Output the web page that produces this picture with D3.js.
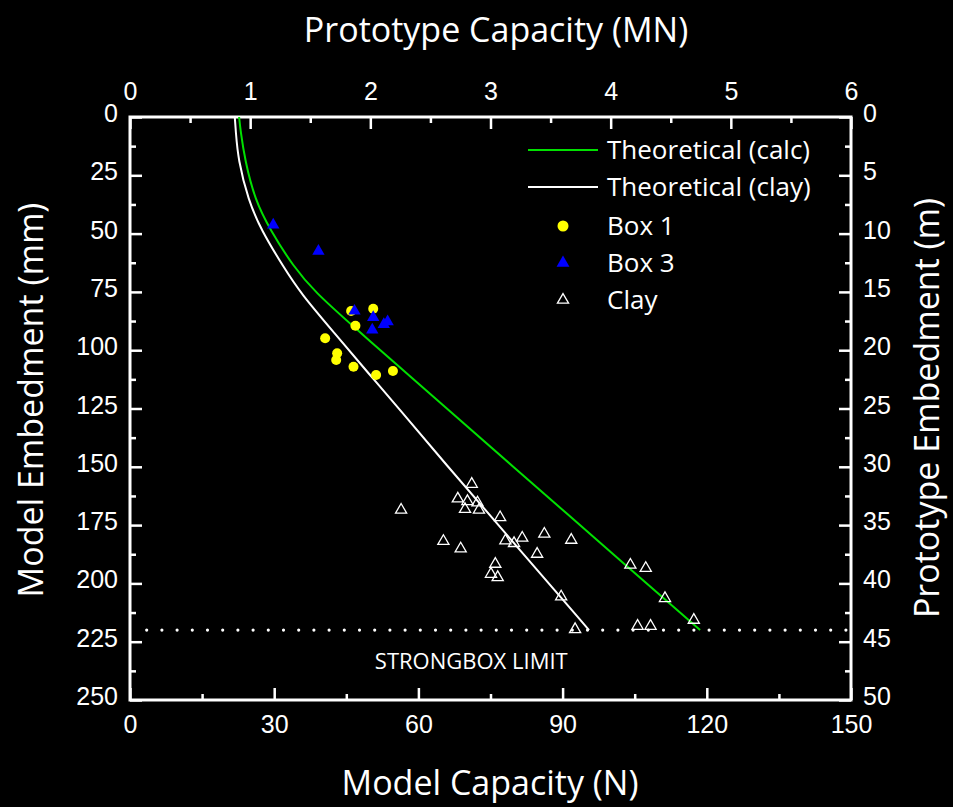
<!DOCTYPE html>
<html>
<head>
<meta charset="utf-8">
<script src="https://cdn.jsdelivr.net/npm/d3@7"></script>
<style>
html,body{margin:0;padding:0;background:#000;}
svg{display:block;}
text{font-family:"Open Sans",sans-serif;fill:#fff;}
</style>
</head>
<body>
<svg id="chart" width="953" height="807"></svg>
<script>
// ---- data ----
const xTicksBottom = [0, 30, 60, 90, 120, 150];
const yTicksLeft = [0, 25, 50, 75, 100, 125, 150, 175, 200, 225, 250];
const xTicksTop = [0, 1, 2, 3, 4, 5, 6];
const yTicksRight = [0, 5, 10, 15, 20, 25, 30, 35, 40, 45, 50];

// Theoretical curves: [capacity N, embedment mm]
const theoCalc = [[22.7,0],[23.0,6],[23.9,18.4],[26.0,35.6],[29.2,48.5],[34.0,64.2],[38.4,74.9],[46.5,89.9],[56.8,108.5],[63.1,119.9],[78.1,147],[104.3,194.3],[118.6,220]];
const theoClay = [[21.8,0],[22.0,6],[22.5,18.4],[24.6,35.6],[27.3,48.5],[31.9,64.2],[35.5,75.6],[42.6,92.8],[49.6,109.9],[56.2,125.6],[64.9,147],[80,183],[95.5,220]];

const box1 = [[46.0,83.2],[50.6,82.2],[46.9,89.5],[40.6,94.9],[43.1,101.3],[42.9,104.2],[46.5,107.1],[51.2,110.6],[54.7,108.9]];
const box3 = [[29.8,46.3],[39.2,57.5],[46.7,83.2],[50.6,85.9],[50.4,91.3],[52.8,88.9],[53.6,87.8]];
const clay = [[71.1,157.4],[68.2,163.7],[70.2,164.8],[72.3,165.4],[69.7,168.2],[72.6,168.5],[56.4,168.5],[77.0,171.7],[86.2,178.8],[91.8,181.4],[81.6,180.5],[78.1,181.7],[79.9,182.8],[65.2,181.9],[68.8,185.1],[84.7,187.4],[76.0,191.7],[75.1,196.0],[76.5,197.4],[89.7,205.7],[92.6,219.7],[104.1,192.1],[107.3,193.5],[111.3,206.4],[117.3,215.7],[105.6,218.3],[108.3,218.3]];

const strongboxLimit = 220;
const legendItems = ["Theoretical (calc)", "Theoretical (clay)", "Box 1", "Box 3", "Clay"];

// ---- layout ----
const L = 130, T = 117, W = 721, H = 583;
const svg = d3.select("#chart");
const g = svg.append("g").attr("transform", `translate(${L},${T})`);

const x = d3.scaleLinear().domain([0, 150]).range([0, W]);
const y = d3.scaleLinear().domain([0, 250]).range([0, H]);
const xTop = d3.scaleLinear().domain([0, 6]).range([0, W]);
const yRight = d3.scaleLinear().domain([0, 50]).range([0, H]);

const FS = 25;
const TICKFONT = '"Liberation Sans", Arial, sans-serif';
const GREEN = "#00e000";

function styleAxis(sel) {
  sel.select(".domain").remove();
  sel.selectAll("line").attr("stroke", "#fff").attr("stroke-width", 2.5);
  sel.selectAll("text").attr("font-size", FS).attr("fill", "#fff").style("font-family", TICKFONT);
}
function vertLabels(sel) { sel.selectAll("text").attr("dy", "0.18em"); }

function minors(arr) { const out = []; for (let i = 0; i < arr.length - 1; i++) out.push((arr[i] + arr[i+1]) / 2); return out; }

// bottom
g.append("g").attr("transform", `translate(0,${H})`)
  .call(d3.axisBottom(x).tickValues(xTicksBottom).tickSize(-12).tickPadding(15).tickFormat(d3.format("d")))
  .call(styleAxis);
g.append("g").attr("transform", `translate(0,${H})`)
  .call(d3.axisBottom(x).tickValues(minors(xTicksBottom)).tickSize(-6).tickFormat(""))
  .call(styleAxis);
// top
g.append("g")
  .call(d3.axisTop(xTop).tickValues(xTicksTop).tickSize(-12).tickPadding(17).tickFormat(d3.format("d")))
  .call(styleAxis);
g.append("g")
  .call(d3.axisTop(xTop).tickValues(minors(xTicksTop)).tickSize(-6).tickFormat(""))
  .call(styleAxis);
// left
g.append("g")
  .call(d3.axisLeft(y).tickValues(yTicksLeft).tickSize(-12).tickPadding(12).tickFormat(d3.format("d")))
  .call(styleAxis).call(vertLabels);
g.append("g")
  .call(d3.axisLeft(y).tickValues(minors(yTicksLeft)).tickSize(-6).tickFormat(""))
  .call(styleAxis);
// right
g.append("g").attr("transform", `translate(${W},0)`)
  .call(d3.axisRight(yRight).tickValues(yTicksRight).tickSize(-12).tickPadding(12).tickFormat(d3.format("d")))
  .call(styleAxis).call(vertLabels);
g.append("g").attr("transform", `translate(${W},0)`)
  .call(d3.axisRight(yRight).tickValues(minors(yTicksRight)).tickSize(-6).tickFormat(""))
  .call(styleAxis);

// frame
g.append("rect").attr("x", 0).attr("y", 0).attr("width", W).attr("height", H)
  .attr("fill", "none").attr("stroke", "#fff").attr("stroke-width", 3);

// strongbox limit
g.append("line").attr("x1", 16.7).attr("x2", W - 2)
  .attr("y1", y(strongboxLimit)).attr("y2", y(strongboxLimit))
  .attr("stroke", "#fff").attr("stroke-width", 3.2).attr("stroke-linecap", "round")
  .attr("stroke-dasharray", "0 15.2");
g.append("text").attr("x", x(71)).attr("y", y(236.5)).attr("text-anchor", "middle")
  .attr("font-size", 22).text("STRONGBOX LIMIT");

// curves
const line = d3.line().x(d => x(d[0])).y(d => y(d[1])).curve(d3.curveBasis);
g.append("path").datum(theoClay).attr("d", line).attr("fill", "none").attr("stroke", "#fff").attr("stroke-width", 2);
g.append("path").datum(theoCalc).attr("d", line).attr("fill", "none").attr("stroke", GREEN).attr("stroke-width", 2);

// points
const tri = d3.symbol(d3.symbolTriangle, 66);
const triClay = d3.symbol(d3.symbolTriangle, 54);
g.append("g").selectAll("path").data(clay).join("path")
  .attr("d", triClay).attr("transform", d => `translate(${x(d[0])},${y(d[1])})`)
  .attr("fill", "none").attr("stroke", "#fff").attr("stroke-width", 1.3);
g.append("g").selectAll("circle").data(box1).join("circle")
  .attr("cx", d => x(d[0])).attr("cy", d => y(d[1])).attr("r", 5).attr("fill", "#ffff00");
g.append("g").selectAll("path").data(box3).join("path")
  .attr("d", tri).attr("transform", d => `translate(${x(d[0])},${y(d[1])})`)
  .attr("fill", "#0000ff");

// legend
const lg = svg.append("g");
const rows = [150, 187, 226, 263, 300];
lg.append("line").attr("x1", 528).attr("x2", 598).attr("y1", rows[0]).attr("y2", rows[0]).attr("stroke", GREEN).attr("stroke-width", 2);
lg.append("line").attr("x1", 528).attr("x2", 598).attr("y1", rows[1]).attr("y2", rows[1]).attr("stroke", "#fff").attr("stroke-width", 2);
lg.append("circle").attr("cx", 563).attr("cy", rows[2]).attr("r", 5.5).attr("fill", "#ffff00");
lg.append("path").attr("d", d3.symbol(d3.symbolTriangle, 72)).attr("transform", `translate(563,${rows[3]})`).attr("fill", "#0000ff");
lg.append("path").attr("d", d3.symbol(d3.symbolTriangle, 54)).attr("transform", `translate(563,${rows[4]})`).attr("fill", "none").attr("stroke", "#fff").attr("stroke-width", 1.3);
lg.selectAll("text.lt").data(legendItems).join("text").attr("class", "lt")
  .attr("x", 607).attr("y", (d, i) => rows[i]).attr("dy", "0.35em")
  .attr("font-size", 26).text(d => d);

// axis titles
svg.append("text").attr("x", 496).attr("y", 42).attr("text-anchor", "middle").attr("font-size", 34).text("Prototype Capacity (MN)");
svg.append("text").attr("x", 490).attr("y", 795).attr("text-anchor", "middle").attr("font-size", 34).text("Model Capacity (N)");
svg.append("text").attr("transform", "translate(43,400) rotate(-90)").attr("text-anchor", "middle").attr("font-size", 34).text("Model Embedment (mm)");
svg.append("text").attr("transform", "translate(939,408) rotate(-90)").attr("text-anchor", "middle").attr("font-size", 34).text("Prototype Embedment (m)");
</script>
</body>
</html>
